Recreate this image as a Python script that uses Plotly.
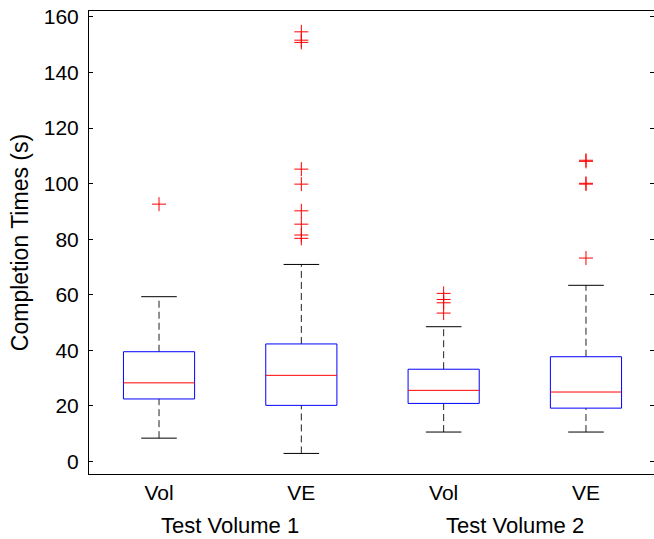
import plotly.graph_objects as go

# ---- data ----
tick_labels = ["Vol", "VE", "Vol", "VE"]
group_labels = ["Test Volume 1", "Test Volume 2"]
positions = [1, 2, 3, 4]
q1 = [22.5, 20.2, 20.9, 19.2]
median = [28.3, 31.0, 25.6, 25.0]
q3 = [39.5, 42.3, 33.2, 37.7]
lower_whisker = [8.4, 2.9, 10.6, 10.6]
upper_whisker = [59.3, 70.9, 48.5, 63.4]
outliers = [
    [92.6],
    [154.6, 151.6, 150.8, 105.2, 99.8, 90.2, 85.4, 81.5, 80.3],
    [60.5, 58.3, 57.1, 53.4],
    [108.0, 108.4, 99.8, 100.1, 73.2],
]

BOX_HALF = 0.25
CAP_HALF = 0.125

fig = go.Figure()

# whiskers (dashed)
wx, wy = [], []
for p, a, b, c, d in zip(positions, lower_whisker, q1, q3, upper_whisker):
    wx += [p, p, None, p, p, None]
    wy += [a, b, None, c, d, None]
fig.add_trace(go.Scatter(x=wx, y=wy, mode="lines",
                         line=dict(color="#222222", width=1, dash="7px,4px"),
                         hoverinfo="skip", showlegend=False))
# caps
cx, cy = [], []
for p, a, d in zip(positions, lower_whisker, upper_whisker):
    cx += [p - CAP_HALF, p + CAP_HALF, None, p - CAP_HALF, p + CAP_HALF, None]
    cy += [a, a, None, d, d, None]
fig.add_trace(go.Scatter(x=cx, y=cy, mode="lines",
                         line=dict(color="black", width=1),
                         hoverinfo="skip", showlegend=False))
# boxes
bx, by = [], []
for p, b, c in zip(positions, q1, q3):
    bx += [p - BOX_HALF, p + BOX_HALF, p + BOX_HALF, p - BOX_HALF, p - BOX_HALF, None]
    by += [b, b, c, c, b, None]
fig.add_trace(go.Scatter(x=bx, y=by, mode="lines",
                         line=dict(color="#0000ff", width=1),
                         hoverinfo="skip", showlegend=False))
# medians
mx, my = [], []
for p, m in zip(positions, median):
    mx += [p - BOX_HALF, p + BOX_HALF, None]
    my += [m, m, None]
fig.add_trace(go.Scatter(x=mx, y=my, mode="lines",
                         line=dict(color="#ff0000", width=1),
                         hoverinfo="skip", showlegend=False))
# outliers
ox, oy = [], []
for p, vals in zip(positions, outliers):
    ox += [p] * len(vals)
    oy += vals
fig.add_trace(go.Scatter(x=ox, y=oy, mode="markers",
                         marker=dict(symbol="cross-thin", size=10,
                                     line=dict(color="#ff0000", width=1)),
                         hoverinfo="skip", showlegend=False))

for i, g in enumerate(group_labels):
    fig.add_annotation(x=(positions[2 * i] + positions[2 * i + 1]) / 2, xref="x",
                       y=0, yref="paper", yanchor="middle", yshift=-51,
                       text=g, showarrow=False,
                       font=dict(size=22, color="black"))

FONT = "Liberation Sans, Arial, Helvetica, sans-serif"
fig.update_layout(
    width=654, height=539,
    margin=dict(l=89, r=0, t=11, b=65),
    plot_bgcolor="white", paper_bgcolor="white",
    font=dict(family=FONT, color="black", size=21),
    xaxis=dict(range=[0.508, 4.478], tickmode="array", tickvals=positions,
               ticktext=tick_labels, ticks="", showgrid=False, zeroline=False,
               showline=True, linecolor="black", linewidth=1, mirror=True,
               tickfont=dict(size=21), ticklabelstandoff=0, automargin=False),
    yaxis=dict(range=[-4.5, 162.1], tickmode="array",
               tickvals=[0, 20, 40, 60, 80, 100, 120, 140, 160],
               ticks="inside", ticklen=4, tickcolor="black",
               showgrid=False, zeroline=False,
               showline=True, linecolor="black", linewidth=1, mirror="ticks",
               tickfont=dict(size=21), ticklabelstandoff=5, automargin=False,
               title=dict(text="Completion Times (s)", font=dict(size=23),
                          standoff=8)),
)

fig.write_html("out.html",
               config={"displayModeBar": False},
               post_script="document.body.style.margin='0';"
                           "document.body.style.overflow='hidden';")
